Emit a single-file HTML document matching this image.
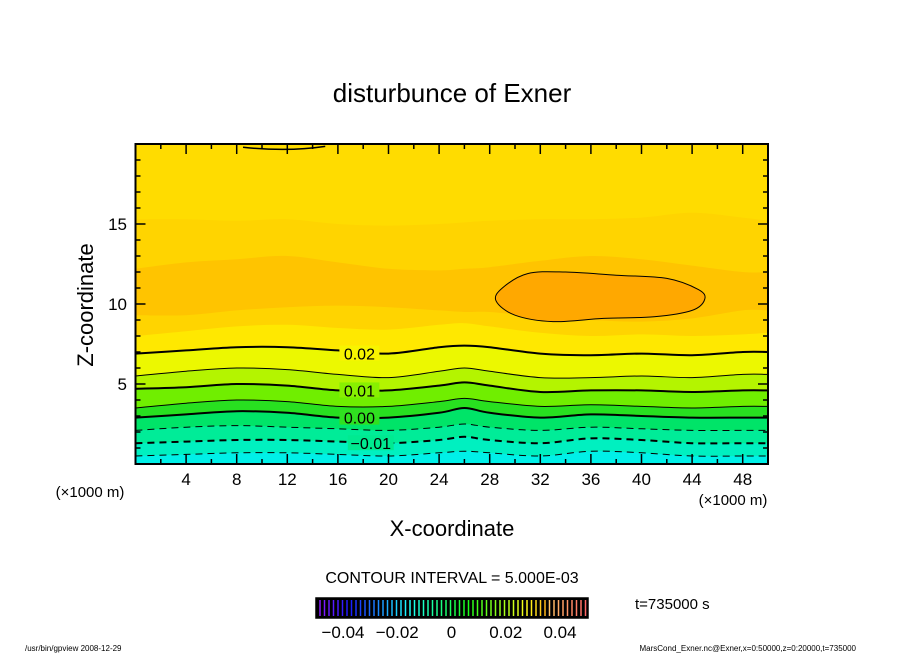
<!DOCTYPE html>
<html><head><meta charset="utf-8"><style>
body{margin:0;background:#fff;}
svg{display:block;font-family:"Liberation Sans",sans-serif;}
</style></head><body>
<svg id="c" width="904" height="654" viewBox="0 0 904 654">
<text x="452" y="102" text-anchor="middle" font-size="26">disturbunce of Exner</text>
<g id="plot"></g>
<text x="452" y="536" text-anchor="middle" font-size="22">X-coordinate</text>
<text transform="translate(93,305) rotate(-90)" text-anchor="middle" font-size="22">Z-coordinate</text>
<text x="90" y="497" text-anchor="middle" font-size="15">(×1000 m)</text>
<text x="733" y="505" text-anchor="middle" font-size="15">(×1000 m)</text>
<text x="452" y="583" text-anchor="middle" font-size="16">CONTOUR INTERVAL = 5.000E-03</text>
<text x="635" y="609" font-size="15">t=735000 s</text>
<g id="cbar"></g>
<text x="25" y="651" font-size="8">/usr/bin/gpview   2008-12-29</text>
<text x="856" y="651" text-anchor="end" font-size="8">MarsCond_Exner.nc@Exner,x=0:50000,z=0:20000,t=735000</text>
</svg>
<script>
const xs=[0,4,8,12,16,20,24,26,28,32,36,40,44,48,50];
const levels=[-0.015,-0.01,-0.005,0,0.005,0.01,0.015,0.02];
const c_m015=[0.5,0.6,0.7,0.7,0.6,0.5,0.7,0.8,0.7,0.5,0.8,0.7,0.5,0.5,0.5];
const c_m010=[1.3,1.4,1.5,1.5,1.4,1.3,1.5,1.7,1.5,1.3,1.6,1.5,1.3,1.3,1.3];
const c_m005=[2.1,2.3,2.4,2.3,2.2,2.1,2.3,2.5,2.3,2.1,2.3,2.2,2.1,2.1,2.1];
const c_000=[2.9,3.1,3.3,3.2,2.9,2.9,3.2,3.5,3.2,2.9,3.1,3.0,2.9,2.9,2.9];
const c_005=[3.5,3.8,4.0,3.9,3.6,3.6,3.9,4.1,3.9,3.6,3.7,3.6,3.5,3.6,3.6];
const c_010=[4.7,4.8,5.0,4.9,4.6,4.6,4.9,5.1,4.9,4.5,4.6,4.6,4.5,4.6,4.6];
const c_015=[5.5,5.8,6.0,5.9,5.6,5.4,5.8,6.0,5.8,5.4,5.4,5.5,5.4,5.6,5.6];
const c_020=[6.9,7.1,7.3,7.3,7.1,6.9,7.3,7.4,7.3,6.9,6.8,6.9,6.8,7.0,7.0];
const c_025=[8.0,8.3,8.6,8.7,8.5,8.4,8.7,8.8,8.6,8.2,8.0,8.1,8.0,8.1,8.2];
const c_035=[9.3,9.3,9.6,9.8,9.9,9.8,9.6,9.5,9.5,9.2,9.0,8.9,9.1,9.6,9.6];
const c_035top=[12.2,12.6,12.8,13.0,12.6,12.2,12.1,12.2,12.3,12.7,13.0,12.8,12.4,12.0,12.0];
const c_030top=[15.3,15.3,15.2,15.3,15.0,14.9,15.0,15.1,15.2,15.3,15.3,15.4,15.7,15.4,15.2];
const blobX=[29,31,34,38,42,44.5,45,44,41,37,33,30,28.5];
const blobZ=[11.0,11.9,12.0,11.8,11.6,10.9,10.3,9.6,9.2,9.1,8.9,9.3,10.2];
const xTicks=[4,8,12,16,20,24,28,32,36,40,44,48];
const yTicks=[5,10,15];
const cbTicks=[-0.04,-0.02,0,0.02,0.04];
const cbLabels=["−0.04","−0.02","0","0.02","0.04"];
const lineLabels=["0.02","0.01","0.00","−0.01"];

const NS="http://www.w3.org/2000/svg";
const X0=135.5,X1=768,Y0=464,Y1=144;
const sx=v=>X0+(v/50)*(X1-X0);
const sy=v=>Y0-(v/20)*(Y0-Y1);
const plot=document.getElementById('plot');
function mk(tag,attrs,parent){const e=document.createElementNS(NS,tag);for(const k in attrs)e.setAttribute(k,attrs[k]);(parent||plot).appendChild(e);return e;}
function smooth(P,closed){
  let d='M'+P[0][0]+','+P[0][1];
  const n=P.length;
  const g=i=>closed?P[(i+n)%n]:P[Math.max(0,Math.min(n-1,i))];
  const m=closed?n:n-1;
  for(let i=0;i<m;i++){
    const p0=g(i-1),p1=g(i),p2=g(i+1),p3=g(i+2);
    const c1=[p1[0]+(p2[0]-p0[0])/6,p1[1]+(p2[1]-p0[1])/6];
    const c2=[p2[0]-(p3[0]-p1[0])/6,p2[1]-(p3[1]-p1[1])/6];
    d+=` C${c1[0]},${c1[1]} ${c2[0]},${c2[1]} ${p2[0]},${p2[1]}`;
  }
  return d+(closed?'Z':'');
}
const P=arr=>xs.map((x,i)=>[sx(x),sy(arr[i])]);
function fillAbove(arr,col,name){
  const d=smooth(P(arr),false)+` L${sx(50)},${sy(20)} L${sx(0)},${sy(20)} Z`;
  const p=mk('path',{d:d,fill:col});
  
  
}
let bg=mk('rect',{x:X0,y:Y1,width:X1-X0,height:Y0-Y1,fill:'#00f0e8'});


const lines=[c_m015,c_m010,c_m005,c_000,c_005,c_010,c_015,c_020];
const fills=['#00f0c0','#00ec98','#00e468','#28e020','#70ee00','#b4f400','#ecf800','#ffe800'];
lines.forEach((l,i)=>fillAbove(l,fills[i],'fill-band-'+i));
fillAbove(c_025,'#ffd400','fill-band-025');
fillAbove(c_035,'#ffc400','fill-band-035');
fillAbove(c_035top,'#ffd400','fill-band-030');
fillAbove(c_030top,'#ffdc00','fill-band-top');
let blob=mk('path',{d:smooth(blobX.map((x,i)=>[sx(x),sy(blobZ[i])]),true),fill:'#ffa800',stroke:'#000','stroke-width':1});


lines.forEach((l,i)=>{
  const lv=levels[i];
  const major=Math.round(lv*1000)%10===0;
  const a={d:smooth(P(l),false),fill:'none',stroke:'#000','stroke-width':major?2:1};
  if(lv<0)a['stroke-dasharray']='7,5';
  const e=mk('path',a);
  
  
});
let tc=mk('path',{d:`M${sx(8.5)},${sy(19.8)} Q${sx(12)},${sy(19.5)} ${sx(15)},${sy(19.85)}`,fill:'none',stroke:'#000','stroke-width':1.5});


[[c_020,0],[c_010,1],[c_000,2],[c_m010,3]].forEach(([arr,k])=>{
  const xv=k===3?18.6:17.7;
  const zv=arr[5];
  const w=k===3?46:40;
  const r=mk('rect',{x:sx(xv)-w/2,y:sy(zv)-8,width:w,height:15,fill:k===0?'#f8f400':k===1?'#88f000':k===2?'#30e020':'#00ea90'});
  
  
  const t=mk('text',{x:sx(xv),y:sy(zv)+6,'text-anchor':'middle','font-size':16});
  t.textContent=lineLabels[k];
  
  
});
let fr=mk('rect',{x:X0,y:Y1,width:X1-X0,height:Y0-Y1,fill:'none',stroke:'#000','stroke-width':2});


for(let v=2;v<50;v+=2){
  const maj=v%4===0, L=maj?10:5;
  mk('line',{x1:sx(v),x2:sx(v),y1:Y0,y2:Y0-L,stroke:'#000','stroke-width':1.5});
  mk('line',{x1:sx(v),x2:sx(v),y1:Y1,y2:Y1+L,stroke:'#000','stroke-width':1.5});
}
for(let v=1;v<20;v++){
  const maj=v%5===0, L=maj?10:5;
  mk('line',{x1:X0,x2:X0+L,y1:sy(v),y2:sy(v),stroke:'#000','stroke-width':1.5});
  mk('line',{x1:X1,x2:X1-L,y1:sy(v),y2:sy(v),stroke:'#000','stroke-width':1.5});
}
xTicks.forEach(v=>{const t=mk('text',{x:sx(v),y:485,'text-anchor':'middle','font-size':17});t.textContent=v;
  
  });
yTicks.forEach(v=>{const t=mk('text',{x:127,y:sy(v)+6,'text-anchor':'end','font-size':17});t.textContent=v;
  
  });
const cb=document.getElementById('cbar');
const CB0=316,CB1=588;
const cx=v=>343+(v+0.04)/0.08*(560-343);
mk('rect',{x:CB0,y:598,width:CB1-CB0,height:20,fill:'#000'},cb);
for(let i=0;i<60;i++){
  const f=i/59;const h=270-f*270;
  mk('line',{x1:CB0+4+i*4.5,x2:CB0+4+i*4.5,y1:600,y2:616,stroke:`hsl(${h<0?0:h},100%,${f>0.85?70:55}%)`,'stroke-width':1.5},cb);
}
mk('rect',{x:CB0,y:598,width:CB1-CB0,height:20,fill:'none',stroke:'#000','stroke-width':1.5},cb);
cbTicks.forEach((v,i)=>{const t=mk('text',{x:cx(v),y:638,'text-anchor':'middle','font-size':17},cb);t.textContent=cbLabels[i];
  
  });
</script>
</body></html>
